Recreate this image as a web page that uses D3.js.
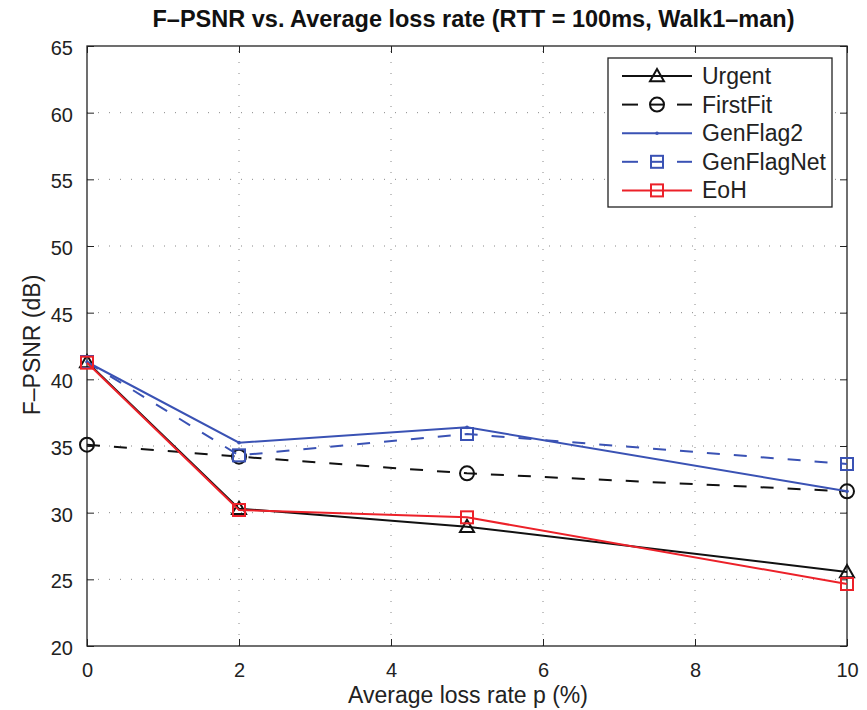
<!DOCTYPE html>
<html>
<head>
<meta charset="utf-8">
<script src="https://cdn.jsdelivr.net/npm/d3@7"></script>
<style>
  html, body { margin: 0; padding: 0; background: #fff; }
  svg { display: block; font-family: "Liberation Sans", Arial, Helvetica, sans-serif; }
</style>
</head>
<body>
<svg id="chart" width="867" height="710"></svg>
<script>
// Loss rates (%) on the x axis
const lossRates = [0, 2, 5, 10];

// F-PSNR (dB) for each scheme
const urgent     = [41.3, 30.3, 28.95, 25.55];
const firstFit   = [35.1, 34.2, 32.95, 31.6];
const genFlag2   = [41.3, 35.25, 36.4, 31.6];
const genFlagNet = [41.3, 34.3, 35.9, 33.65];
const eoh        = [41.25, 30.2, 29.65, 24.65];

const seriesNames = ["Urgent", "FirstFit", "GenFlag2", "GenFlagNet", "EoH"];
const seriesValues = [urgent, firstFit, genFlag2, genFlagNet, eoh];

const xTicks = [0, 2, 4, 6, 8, 10];
const yTicks = [20, 25, 30, 35, 40, 45, 50, 55, 60, 65];

const titleText = "F–PSNR vs. Average loss rate (RTT = 100ms, Walk1–man)";
const xLabel = "Average loss rate p (%)";
const yLabel = "F–PSNR (dB)";

// Line styling per scheme
const styles = {
  "Urgent":     { color: "#111", dash: null,    marker: "triangle" },
  "FirstFit":   { color: "#111", dash: "13,14", marker: "circle" },
  "GenFlag2":   { color: "#3a52b4", dash: null,    marker: "dot" },
  "GenFlagNet": { color: "#3a52b4", dash: "13,14", marker: "square" },
  "EoH":        { color: "#ec2129", dash: null,    marker: "square" }
};

const svg = d3.select("#chart");
const plot = { left: 87, right: 847, top: 46, bottom: 646 };

const x = d3.scaleLinear().domain([0, 10]).range([plot.left, plot.right]);
const y = d3.scaleLinear().domain([20, 65]).range([plot.bottom, plot.top]);

// Dotted grid
const grid = svg.append("g").attr("stroke", "#888").attr("stroke-width", 1).attr("stroke-dasharray", "1,10");
xTicks.slice(1, -1).forEach(t => {
  grid.append("line").attr("x1", x(t)).attr("x2", x(t)).attr("y1", plot.bottom).attr("y2", plot.top);
});
yTicks.slice(1, -1).forEach(t => {
  grid.append("line").attr("x1", plot.left).attr("x2", plot.right).attr("y1", y(t)).attr("y2", y(t));
});

// Axes with inward ticks on all four sides
const tickLen = 7;
const axisBottom = d3.axisBottom(x).tickValues(xTicks).tickSizeInner(-tickLen).tickSizeOuter(0).tickPadding(17);
const axisTop = d3.axisTop(x).tickValues(xTicks).tickSizeInner(-tickLen).tickSizeOuter(0).tickFormat("");
const axisLeft = d3.axisLeft(y).tickValues(yTicks).tickSizeInner(-tickLen).tickSizeOuter(0).tickPadding(14);
const axisRight = d3.axisRight(y).tickValues(yTicks).tickSizeInner(-tickLen).tickSizeOuter(0).tickFormat("");

function styleAxis(g) {
  g.select(".domain").remove();
  g.selectAll(".tick line").attr("stroke", "#222").attr("stroke-width", 1);
  g.selectAll(".tick text").attr("fill", "#222").style("font-size", "20px")
    .style("font-family", "\"Liberation Sans\", Arial, sans-serif");
}

svg.append("g").attr("transform", `translate(0,${plot.bottom})`).call(axisBottom).call(styleAxis);
svg.append("g").attr("transform", `translate(0,${plot.top})`).call(axisTop).call(styleAxis);
svg.append("g").attr("transform", `translate(${plot.left},0)`).call(axisLeft).call(styleAxis)
  .selectAll(".tick text").attr("dy", "0.42em");
svg.append("g").attr("transform", `translate(${plot.right},0)`).call(axisRight).call(styleAxis);

// Frame
svg.append("rect")
  .attr("x", plot.left).attr("y", plot.top)
  .attr("width", plot.right - plot.left).attr("height", plot.bottom - plot.top)
  .attr("fill", "none").attr("stroke", "#222").attr("stroke-width", 1.3);

// Marker drawing helper
function drawMarker(g, type, cx, cy, color) {
  if (type === "triangle") {
    const s = 7;
    g.append("path")
      .attr("d", `M${cx},${cy - s} L${cx + s},${cy + s * 0.75} L${cx - s},${cy + s * 0.75} Z`)
      .attr("fill", "none").attr("stroke", color).attr("stroke-width", 2);
  } else if (type === "circle") {
    g.append("circle").attr("cx", cx).attr("cy", cy).attr("r", 7)
      .attr("fill", "none").attr("stroke", color).attr("stroke-width", 2);
  } else if (type === "square") {
    const s = 6;
    g.append("rect").attr("x", cx - s).attr("y", cy - s).attr("width", 2 * s).attr("height", 2 * s)
      .attr("fill", "none").attr("stroke", color).attr("stroke-width", 2);
  } else if (type === "dot") {
    g.append("circle").attr("cx", cx).attr("cy", cy).attr("r", 1.8).attr("fill", color);
  }
}

// Series lines and markers
const line = d3.line().x((d, i) => x(lossRates[i])).y(d => y(d));
const seriesLayer = svg.append("g");
seriesNames.forEach((name, k) => {
  const st = styles[name];
  const g = seriesLayer.append("g");
  g.append("path")
    .attr("d", line(seriesValues[k]))
    .attr("fill", "none")
    .attr("stroke", st.color)
    .attr("stroke-width", 2)
    .attr("stroke-dasharray", st.dash);
  seriesValues[k].forEach((v, i) => drawMarker(g, st.marker, x(lossRates[i]), y(v), st.color));
});

// Legend
const legend = svg.append("g");
legend.append("rect")
  .attr("x", 608).attr("y", 58).attr("width", 224).attr("height", 149)
  .attr("fill", "#fff").attr("stroke", "#222").attr("stroke-width", 1.3);
seriesNames.forEach((name, k) => {
  const st = styles[name];
  const ly = 76 + k * 28.6;
  const g = legend.append("g");
  if (st.dash) {
    // dashed sample: two outer dashes plus one passing through the marker
    [[622, 638], [650, 664], [677, 692]].forEach(([a, b]) => {
      g.append("line").attr("x1", a).attr("x2", b).attr("y1", ly).attr("y2", ly)
        .attr("stroke", st.color).attr("stroke-width", 2);
    });
  } else {
    g.append("line").attr("x1", 622).attr("x2", 692).attr("y1", ly).attr("y2", ly)
      .attr("stroke", st.color).attr("stroke-width", 2);
  }
  drawMarker(g, st.marker, 657, ly, st.color);
  g.append("text").attr("x", 702).attr("y", ly + 8)
    .attr("fill", "#222").style("font-size", "23px").text(name);
});

// Titles
svg.append("text")
  .attr("x", 473.5).attr("y", 27)
  .attr("text-anchor", "middle")
  .style("font-size", "23.5px").style("font-weight", "bold")
  .attr("fill", "#111")
  .text(titleText);

svg.append("text")
  .attr("x", 468).attr("y", 703)
  .attr("text-anchor", "middle")
  .style("font-size", "23px")
  .attr("fill", "#222")
  .text(xLabel);

svg.append("text")
  .attr("transform", "translate(40,345) rotate(-90)")
  .attr("text-anchor", "middle")
  .style("font-size", "23px")
  .attr("fill", "#222")
  .text(yLabel);
</script>
</body>
</html>
